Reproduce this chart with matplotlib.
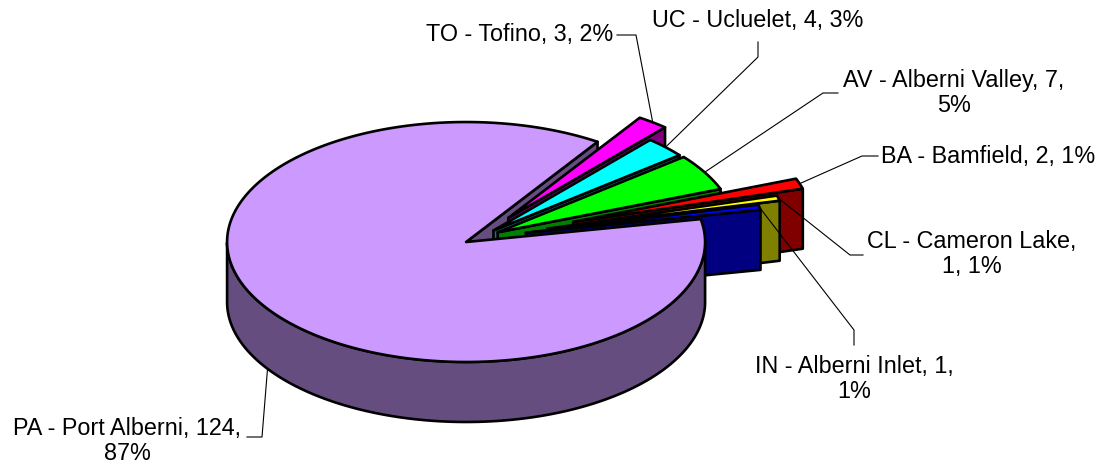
import numpy as np
import matplotlib.pyplot as plt
from matplotlib.patches import Polygon
from matplotlib.colors import to_rgb

codes = ['PA', 'TO', 'UC', 'AV', 'BA', 'CL', 'IN']
names = ['Port Alberni', 'Tofino', 'Ucluelet', 'Alberni Valley',
         'Bamfield', 'Cameron Lake', 'Alberni Inlet']
counts = [124, 3, 4, 7, 2, 1, 1]
colors = ['#CC99FF', '#FF00FF', '#00FFFF', '#00FF00', '#FF0000', '#FFFF00', '#0000FF']
explode = [0.06, 0.21, 0.09, 0.095, 0.42, 0.30, 0.205]
wrap = ['pct', None, None, 'pct', None, 'name', 'pct']

# layout (pixel space)
W, H = 1103, 465
cx, cy, R, k, depth = 478, 238, 239, 0.502, 60
start = 11.0
label_xy = [(127, 441), (520, 35), (758, 20), (954, 93), (988, 156), (972, 254), (854, 379)]
leader_pts = [[(247, 437), (262, 437)], [(617, 35), (636, 35)], [(758, 42), (758, 57)],
              [(838, 93), (823, 93)], [(878, 156), (862, 156)], [(863, 255), (850, 255)],
              [(854, 345), (854, 330)]]

fig = plt.figure(figsize=(W / 100, H / 100), dpi=100)
ax = fig.add_axes([0, 0, 1, 1])
ax.set_xlim(0, W)
ax.set_ylim(H, 0)
ax.axis('off')

total = sum(counts)
spans = [360.0 * c / total for c in counts]
lw = 1.9


def pt(th, r, off, z=0.0):
    t = np.radians(th)
    return (cx + off[0] + R * r * np.cos(t), cy + off[1] - k * R * r * np.sin(t) + z)


def dark(c):
    return tuple(v * 0.5 for v in to_rgb(c))


def poly(pts, fc, z):
    ax.add_patch(Polygon(pts, closed=True, fc=fc, ec='black', lw=lw,
                         joinstyle='round', zorder=z))


hi = start
geo = []
for i, c in enumerate(counts):
    lo = hi - spans[i]
    mid = np.radians((lo + hi) / 2)
    off = (explode[i] * R * np.cos(mid), -explode[i] * R * k * np.sin(mid))
    geo.append((lo, hi, off))
    hi = lo


def draw_faces(i, z):
    lo, hi, off = geo[i]
    side = dark(colors[i])
    for th, vis in ((lo, np.cos(np.radians(lo)) > 0), (hi, np.cos(np.radians(hi)) < 0)):
        if vis:
            poly([pt(th, 0, off), pt(th, 1, off), pt(th, 1, off, depth), pt(th, 0, off, depth)],
                 side, z)


def draw_wall_top(i, z):
    lo, hi, off = geo[i]
    side = dark(colors[i])
    th = np.linspace(lo, hi, 400)
    front = np.sin(np.radians(th)) < 0
    idx = np.where(front)[0]
    if len(idx):
        groups = np.split(idx, np.where(np.diff(idx) > 1)[0] + 1)
        for g in groups:
            a = th[g]
            top = [pt(t, 1, off) for t in a]
            bot = [pt(t, 1, off, depth) for t in a[::-1]]
            poly(top + bot, side, z)
    arc = [pt(t, 1, off) for t in np.linspace(lo, hi, 400)]
    poly([pt(0, 0, off)] + arc, colors[i], z + 0.5)


# big slice sits behind the exploded ones on its radial face, in front on top/wall
draw_faces(0, 1)
for i in range(1, len(counts)):
    draw_faces(i, 2 + i)
    draw_wall_top(i, 2 + i + 0.2)
draw_wall_top(0, 20)

for i, c in enumerate(counts):
    pct = round(100 * c / total)
    if wrap[i] == 'pct':
        txt = f'{codes[i]} - {names[i]}, {c},\n{pct}%'
    elif wrap[i] == 'name':
        txt = f'{codes[i]} - {names[i]},\n{c}, {pct}%'
    else:
        txt = f'{codes[i]} - {names[i]}, {c}, {pct}%'
    ax.text(label_xy[i][0], label_xy[i][1], txt, ha='center', va='center',
            fontsize=16.8, family='Liberation Sans', linespacing=1.15, zorder=30)
    lo, hi, off = geo[i]
    m = (lo + hi) / 2
    zz = depth if np.sin(np.radians(m)) < 0 else 0
    anchor = pt(m, 1, off, zz)
    xs = [p[0] for p in leader_pts[i]] + [anchor[0]]
    ys = [p[1] for p in leader_pts[i]] + [anchor[1]]
    ax.plot(xs, ys, color='black', lw=0.8, zorder=25)

fig.savefig('out.png', dpi=100)
